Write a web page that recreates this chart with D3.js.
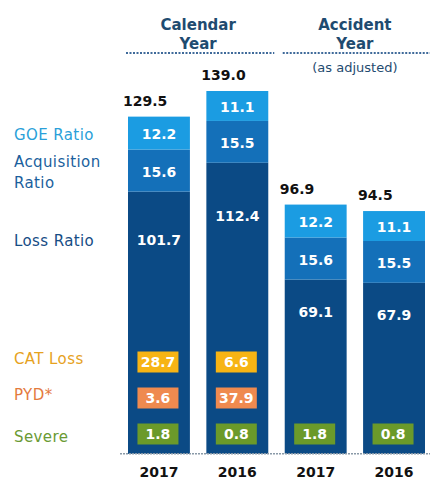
<!DOCTYPE html>
<html>
<head>
<meta charset="utf-8">
<script src="https://cdn.jsdelivr.net/npm/d3@7"></script>
<style>
  body { margin: 0; background: #fff; }
  text { font-family: "DejaVu Sans", sans-serif; }
</style>
</head>
<body>
<div id="chart"></div>
<script>
// data
const columns = ["CY 2017", "CY 2016", "AY 2017", "AY 2016"];
const yearLabels = ["2017", "2016", "2017", "2016"];
const lossRatio = [101.7, 112.4, 69.1, 67.9];
const acqRatio = [15.6, 15.5, 15.6, 15.5];
const goeRatio = [12.2, 11.1, 12.2, 11.1];
const totals = [129.5, 139.0, 96.9, 94.5];
const catLoss = [28.7, 6.6, null, null];
const pyd = [3.6, 37.9, null, null];
const severe = [1.8, 0.8, 1.8, 0.8];

const groups = [
  { name: ["Calendar", "Year"], cols: ["CY 2017", "CY 2016"], sub: null },
  { name: ["Accident", "Year"], cols: ["AY 2017", "AY 2016"], sub: "(as adjusted)" }
];

const width = 430, height = 483;

const svg = d3.select("#chart").append("svg")
  .attr("width", width)
  .attr("height", height);

const x = d3.scaleBand()
  .domain(columns)
  .range([128, 425])
  .paddingInner(0.21)
  .paddingOuter(0);

// value axis starts a bit above zero, like the original
const y = d3.scaleLinear().domain([0, 139]).range([466, 91]);
const axisMin = 4.5;
const base = y(axisMin);

const segKeys = ["loss", "acq", "goe"];
const segColor = { loss: "#0b4a85", acq: "#1470b9", goe: "#1b9ce2" };

const rows = columns.map((c, i) => ({
  col: c, loss: lossRatio[i], acq: acqRatio[i], goe: goeRatio[i]
}));
const stack = d3.stack().keys(segKeys)(rows);

// bars
stack.forEach(layer => {
  svg.append("g").selectAll("rect")
    .data(layer)
    .join("rect")
    .attr("x", d => x(d.data.col))
    .attr("width", x.bandwidth())
    .attr("y", d => y(d[1]))
    .attr("height", d => Math.min(base, y(d[0])) - y(d[1]))
    .attr("fill", segColor[layer.key]);
});

// segment values
stack.forEach(layer => {
  svg.append("g").selectAll("text")
    .data(layer)
    .join("text")
    .attr("x", d => x(d.data.col) + x.bandwidth() / 2)
    .attr("y", d => layer.key === "loss"
      ? y(d[1] * 0.82)
      : (y(d[0]) + y(d[1])) / 2 + 2)
    .attr("text-anchor", "middle")
    .attr("dominant-baseline", "middle")
    .attr("fill", "#fff")
    .attr("font-weight", "bold")
    .attr("font-size", 14)
    .text(d => (d[1] - d[0]).toFixed(1));
});

// totals
svg.append("g").selectAll("text")
  .data(columns)
  .join("text")
  .attr("x", c => x(c) - 5)
  .attr("y", (c, i) => y(totals[i]) - 15)
  .attr("dominant-baseline", "middle")
  .attr("font-size", 14)
  .attr("font-weight", "bold")
  .attr("fill", "#111")
  .text((c, i) => totals[i].toFixed(1));

// small boxes for CAT / PYD / Severe
const boxRows = [
  { key: "CAT Loss", vals: catLoss, color: "#f7b414", text: "#e6a21e" },
  { key: "PYD*", vals: pyd, color: "#ef8a4f", text: "#e47a3d" },
  { key: "Severe", vals: severe, color: "#6b9a2a", text: "#6a9a34" }
];
const rowY = d3.scalePoint().domain(boxRows.map(r => r.key)).range([362, 434]);
const boxW = 41, boxH = 21;

boxRows.forEach(r => {
  const g = svg.append("g").selectAll("g")
    .data(columns.map((c, i) => ({ col: c, v: r.vals[i] })).filter(d => d.v != null))
    .join("g")
    .attr("transform", d => `translate(${x(d.col) + x.bandwidth() / 2 - 1},${rowY(r.key)})`);
  g.append("rect")
    .attr("x", -boxW / 2)
    .attr("y", -boxH / 2)
    .attr("width", boxW)
    .attr("height", boxH)
    .attr("fill", r.color);
  g.append("text")
    .attr("text-anchor", "middle")
    .attr("dominant-baseline", "middle")
    .attr("y", 1)
    .attr("fill", "#fff")
    .attr("font-weight", "bold")
    .attr("font-size", 14)
    .text(d => d.v.toFixed(1));
});

// baseline
svg.append("line")
  .attr("x1", 120).attr("x2", width)
  .attr("y1", base).attr("y2", base)
  .attr("stroke", "#8a9aa8")
  .attr("stroke-width", 1.5)
  .attr("stroke-dasharray", "2,1");

// year labels
svg.append("g").selectAll("text")
  .data(columns)
  .join("text")
  .attr("x", c => x(c) + x.bandwidth() / 2)
  .attr("y", 473)
  .attr("text-anchor", "middle")
  .attr("dominant-baseline", "middle")
  .attr("font-size", 14)
  .attr("font-weight", "bold")
  .attr("fill", "#111")
  .text((c, i) => yearLabels[i]);

// left legend for segments (aligned to first bar labels)
const first = rows[0];
const legendTop = [
  { lines: ["GOE Ratio"], y: (y(first.loss + first.acq) + y(first.loss + first.acq + first.goe)) / 2 + 2, color: "#2a9fd9" },
  { lines: ["Acquisition", "Ratio"], y: (y(first.loss) + y(first.loss + first.acq)) / 2 + 2, color: "#1b5f9d" },
  { lines: ["Loss Ratio"], y: y(first.loss * 0.82), color: "#164d85" }
];
legendTop.forEach(l => {
  const t = svg.append("text")
    .attr("x", 14)
    .attr("font-size", 15)
    .attr("letter-spacing", 0.4)
    .attr("fill", l.color);
  l.lines.forEach((s, i) => {
    t.append("tspan")
      .attr("x", 14)
      .attr("y", l.y + (i - (l.lines.length - 1) / 2) * 21)
      .attr("dominant-baseline", "middle")
      .text(s);
  });
});

boxRows.forEach(r => {
  svg.append("text")
    .attr("x", 14)
    .attr("y", rowY(r.key) - 3 + (r.key === "Severe" ? 6 : 0))
    .attr("dominant-baseline", "middle")
    .attr("font-size", 15)
    .attr("letter-spacing", 0.4)
    .attr("fill", r.text)
    .text(r.key);
});

// group headers
groups.forEach(gr => {
  const x0 = x(gr.cols[0]);
  const x1 = x(gr.cols[gr.cols.length - 1]) + x.bandwidth();
  const cx = (x0 + x1) / 2;
  gr.name.forEach((s, i) => {
    svg.append("text")
      .attr("x", cx)
      .attr("y", 25 + i * 19)
      .attr("text-anchor", "middle")
      .attr("dominant-baseline", "middle")
      .attr("font-size", 15)
      .attr("font-weight", "bold")
      .attr("fill", "#1f4b70")
      .text(s);
  });
  svg.append("line")
    .attr("x1", x0 - 2).attr("x2", Math.min(width, x1 + 6))
    .attr("y1", 53).attr("y2", 53)
    .attr("stroke", "#3f6a9a")
    .attr("stroke-width", 2)
    .attr("stroke-dasharray", "2,1.5");
  if (gr.sub) {
    svg.append("text")
      .attr("x", cx)
      .attr("y", 68)
      .attr("text-anchor", "middle")
      .attr("dominant-baseline", "middle")
      .attr("font-size", 13)
      .attr("fill", "#1f4b70")
      .text(gr.sub);
  }
});
</script>
</body>
</html>
